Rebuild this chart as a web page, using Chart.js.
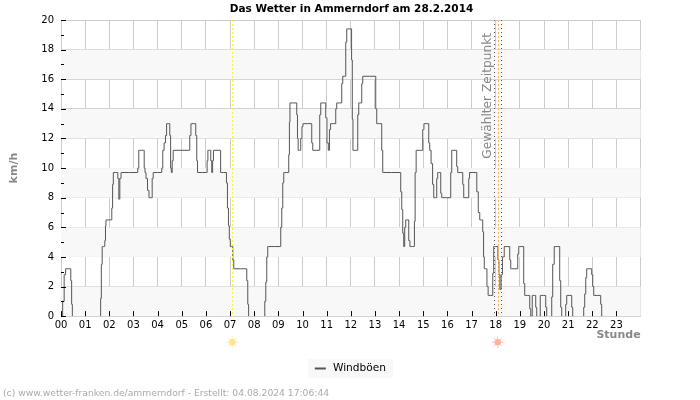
<!DOCTYPE html>
<html><head><meta charset="utf-8">
<style>html,body{margin:0;padding:0;background:#fff}canvas{display:block}</style>
<script src="https://cdn.jsdelivr.net/npm/chart.js@4"></script></head>
<body><canvas id="c" width="700" height="400"></canvas>
<script>
const hourLabels=["00","01","02","03","04","05","06","07","08","09","10","11","12","13","14","15","16","17","18","19","20","21","22","23"];
const bandStarts=[0,4,8,12,16];
const minutes=[2.5,5.7,10,13,23,25.6,27.3,29,97.6,99.4,101,103.6,107.6,110,111,112.5,125,127.4,129,131,140,142.3,145,147.3,151,189.5,192,194.5,205.4,208,209.4,212.9,216.9,220.3,225.3,227.8,230.3,249,251.6,254,258.3,260.8,264,269,271.5,273.2,275,277.5,280,318.7,321,324.7,333.6,336,338.6,339.6,362,364,365.9,370.9,373.3,375.8,377.6,380,395,398.2,409.9,412.3,414.8,417.3,419,422.3,425.5,428,430.5,460.3,462.8,465.3,467,505,507.5,510,512.4,514.9,544.7,547.2,549.7,552.2,554.7,564.6,567,568,569.6,584.5,587,588,590.4,594.4,596.9,600.4,601.9,621.7,624.2,626.7,641.6,644.1,646.6,656.5,659,662.5,665.7,668.2,671.4,681.4,683.8,686.3,696.3,698.7,701.2,706.2,708.7,711.2,721.1,722.8,724.6,726.1,736,738.5,741,746,748.4,750.9,780.7,783.2,785.7,795.6,798.1,800.6,842.8,845.3,847.8,850.3,852.7,855.2,857.7,862.7,865.2,868.7,877.6,878.6,881.1,883.6,897.5,900,903.4,912.4,914.9,917.3,921.6,924.8,927.3,932.3,934.7,937.2,942.2,944.7,947.2,967,969.5,972,981.9,984.4,986.9,996.9,999.3,1001.8,1011.8,1014.2,1016,1030.9,1035.1,1038.3,1042.5,1046.5,1049,1050.7,1052.5,1056.5,1060,1062.4,1071.4,1073.9,1076.3,1083.8,1087.3,1088.7,1092.2,1094.7,1098.7,1103.7,1113.6,1116.1,1118.6,1133.5,1136,1138.5,1148.3,1150.9,1153.3,1163.3,1165.8,1168.3,1173.3,1178.2,1180.7,1183.2,1188.2,1193.1,1203,1205.5,1208,1218,1220.4,1222.9,1227.9,1237.8,1240.3,1242.8,1245.3,1252.7,1255.2,1257.7,1267.6,1270.1,1272.6,1297.4,1299.9,1302.4,1304.9,1307.3,1317.3,1319.8,1322.3,1324.7,1339.6,1342.1,1344.6,1440];
const gusts=[0,1,2.8,3.2,3.2,2.4,.8,0,0,1.2,3.5,4.7,4.7,5.1,6.1,6.5,6.5,7.3,8.9,9.7,9.7,9.3,7.9,9.3,9.7,9.7,10,11.2,11.2,10,9.7,9.3,8.5,8,8,9.3,9.7,9.7,10,11.2,11.7,12.2,13,13,12.2,10,9.7,10.5,11.2,11.2,12.2,13,13,12.2,10.5,9.7,9.7,10.5,11.2,11.2,10.5,9.7,10.5,11.2,11.2,9.7,9.7,9,7.3,6.1,5.2,4.7,4.7,3.8,3.2,3.2,2.4,.8,0,0,1,2.3,4,4.7,4.7,6,7.3,9,9.7,9.7,10.9,13.1,14.4,14.4,13.6,12,11.2,11.2,12,12.8,13,13,11.7,11.2,11.2,13.6,14.4,14.4,13.4,11.7,11.2,12.6,13,13,14,14.4,14.4,15.7,16.2,16.2,18.5,19.4,19.4,17.3,13.3,11.2,11.2,13.6,14.4,14.4,15.7,16.2,16.2,14,13,13,11.2,9.7,9.7,8.4,7.2,5.6,4.7,6,6.5,6.5,5.1,4.7,4.7,6.4,9.7,11.2,11.2,12.6,13,13,11.7,11.2,10.3,8.9,8,8,9.3,9.7,9.7,8.3,8,8,9.7,11.2,11.2,10.1,9.7,9.7,8.9,8,8,9.3,9.7,9.7,8.4,7,6.5,6.5,5.7,4,3.2,3.2,2,1.4,1.4,2.9,4.7,4.7,3.8,2.8,1.8,2.8,4,4.7,4.7,3.8,3.2,3.2,4.2,4.7,4.7,2.2,1.4,1.4,.5,0,1.4,1.4,.6,0,0,1.4,1.4,.6,0,0,1.3,3.5,4.7,4.7,2.4,.6,0,0,.8,1.4,1.4,.6,0,0,.6,1.5,2.6,3.2,3.2,2.8,2,1.4,1.4,.8,0,0];
const sunriseMinute=425.5, sunsetMinute=1085;
const selectedStart=1076, selectedEnd=1094;
const FONT='"DejaVu Sans"';
const points=minutes.map((m,i)=>({x:m,y:gusts[i]}));

const decor={
 id:'decor',
 beforeDatasetsDraw(ch){
  const {ctx,chartArea:a,scales:{y}}=ch;
  ctx.save();
  ctx.fillStyle='#f8f8f8';
  bandStarts.forEach(b=>{const t=y.getPixelForValue(b+2),bt=y.getPixelForValue(b);ctx.fillRect(a.left,t,a.right-a.left,bt-t);});
  ctx.restore();
 },
 afterDatasetsDraw(ch){
  const {ctx,chartArea:a,scales:{x,y}}=ch;
  ctx.save();
  ctx.strokeStyle='#000';ctx.lineWidth=1;
  for(let v=0;v<=20;v++){const p=Math.round(y.getPixelForValue(v))+.5;ctx.beginPath();ctx.moveTo(a.left,p);ctx.lineTo(a.left+(v%2?3:5),p);ctx.stroke();}
  hourLabels.forEach((_,i)=>{const p=Math.round(x.getPixelForValue(i*60))+.5;ctx.beginPath();ctx.moveTo(p,a.bottom);ctx.lineTo(p,a.bottom-5);ctx.stroke();});
  const vline=(m,c,d)=>{const p=Math.round(x.getPixelForValue(m))+.5;ctx.strokeStyle=c;ctx.setLineDash(d);ctx.beginPath();ctx.moveTo(p,a.top);ctx.lineTo(p,a.bottom);ctx.stroke();ctx.setLineDash([]);};
  vline(sunriseMinute,'#ffee44',[2,2]);
  vline(sunsetMinute,'#ffb060',[2,2]);
  vline(selectedStart,'#555',[1,3]);
  vline(selectedEnd,'#555',[1,3]);
  ctx.save();
  ctx.translate(x.getPixelForValue(selectedStart)-6,a.top+13);
  ctx.rotate(-Math.PI/2);
  ctx.fillStyle='#888';ctx.font='12.2px '+FONT;ctx.textAlign='right';ctx.textBaseline='middle';
  ctx.fillText('Gewählter Zeitpunkt',0,0);
  ctx.restore();
  const sun=(m,c)=>{const cx=x.getPixelForValue(m),cy=a.bottom+26;ctx.fillStyle=c;ctx.strokeStyle=c;ctx.lineWidth=1;
   ctx.beginPath();ctx.arc(cx,cy,3.2,0,7);ctx.fill();
   for(let i=0;i<8;i++){const t=i*Math.PI/4;ctx.beginPath();ctx.moveTo(cx+Math.cos(t)*3.5,cy+Math.sin(t)*3.5);ctx.lineTo(cx+Math.cos(t)*5.5,cy+Math.sin(t)*5.5);ctx.stroke();}};
  sun(sunriseMinute,'#ffe48c');
  sun(sunsetMinute,'#ffb09c');
  ctx.restore();
 },
 beforeDraw(ch){
  const h=ch.legend&&ch.legend.legendHitBoxes&&ch.legend.legendHitBoxes[0];
  if(!h)return;
  ch.ctx.save();ch.ctx.fillStyle='#f8f8f8';
  ch.ctx.fillRect(h.left-9,h.top-4,h.width+16,h.height+8);
  ch.ctx.restore();
 }
};

new Chart(document.getElementById('c'),{
 type:'line',
 data:{datasets:[{label:'Windböen',data:points,borderColor:'#555',borderWidth:1,pointRadius:0,tension:0,stepped:'middle',fill:false,
  segment:{borderColor:c=>(c.p0.parsed.y===0&&c.p1.parsed.y===0)?'transparent':undefined}}]},
 plugins:[decor],
 options:{
  responsive:false,animation:false,devicePixelRatio:1,
  layout:{padding:{left:3,right:0,top:0,bottom:0}},
  scales:{
   x:{type:'linear',min:0,max:1440,
    afterFit(s){s.height=41;},
    grid:{color:'#ccc',drawTicks:false,lineWidth:1},
    border:{color:'#ccc'},
    ticks:{stepSize:60,autoSkip:false,maxRotation:0,padding:3,color:'#000',font:{family:FONT,size:10},
     callback:v=>hourLabels[v/60]===undefined?'':hourLabels[v/60]},
    title:{display:true,text:'Stunde',align:'end',color:'#888',font:{family:FONT,size:11,weight:'bold'},padding:{top:0,bottom:15}}},
   y:{min:0,max:20,
    afterFit(s){s.width=58;},
    grid:{drawTicks:false,lineWidth:1,color:c=>c.tick.value%2===0?'#ccc':'transparent'},
    border:{color:'#ccc'},
    ticks:{stepSize:1,autoSkip:false,padding:7,color:'#000',font:{family:FONT,size:10},callback:v=>v%2===0?String(v):''},
    title:{display:true,text:'km/h',color:'#888',font:{family:FONT,size:11,weight:'bold'},padding:{top:5,bottom:0}}},
   yPad:{position:'right',display:true,min:0,max:1,
    afterFit(s){s.width=59.4;},
    grid:{display:false},border:{display:false},ticks:{display:false}}
  },
  plugins:{
   title:{display:true,text:'Das Wetter in Ammerndorf am 28.2.2014',color:'#000',font:{family:FONT,size:10.5,weight:'bold'},padding:{top:2.5,bottom:4.9}},
   subtitle:{display:true,position:'bottom',align:'start',text:'(c) www.wetter-franken.de/ammerndorf - Erstellt: 04.08.2024 17:06:44',color:'#aaa',font:{family:FONT,size:9.2,weight:'normal'},padding:{top:4.2,bottom:1}},
   legend:{display:true,position:'bottom',labels:{usePointStyle:true,pointStyle:'line',boxHeight:11,color:'#000',font:{family:FONT,size:10.6},padding:6,
    generateLabels(ch){const l=Chart.defaults.plugins.legend.labels.generateLabels(ch);l.forEach(i=>{i.lineWidth=2;i.strokeStyle='#555';i.lineDash=[11,30];});return l;}}},
   tooltip:{enabled:false}
  }
 }
});
</script></body></html>
